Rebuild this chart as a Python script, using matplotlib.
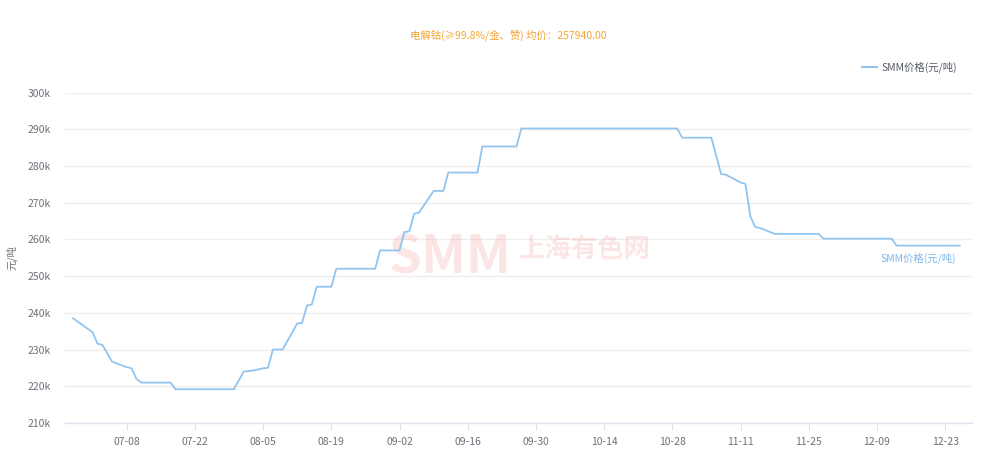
import matplotlib
matplotlib.use("Agg")
import matplotlib.pyplot as plt
import matplotlib.dates as mdates
import numpy as np
import datetime as dt

plt.rcParams['font.family'] = ['Noto Sans CJK SC', 'DejaVu Sans']

YEAR = 2025
title = "电解钴(≥99.8%/金、赞) 均价：257940.00"
series_name = "SMM价格(元/吨)"
y_label = "元/吨"

# vertex dates (MM-DD) and prices (yuan/ton)
dates = ["06-27", "07-01", "07-02", "07-03", "07-05", "07-08", "07-09", "07-10", "07-11",
         "07-17", "07-18", "07-30", "08-01", "08-03", "08-05", "08-06", "08-07", "08-09",
         "08-12", "08-13", "08-14", "08-15", "08-16", "08-19", "08-20", "08-28", "08-29",
         "09-02", "09-03", "09-04", "09-05", "09-06", "09-09", "09-11", "09-12", "09-18",
         "09-19", "09-26", "09-27", "10-29", "10-30", "11-05", "11-07", "11-08", "11-11",
         "11-12", "11-13", "11-14", "11-15", "11-18", "11-27", "11-28", "12-12", "12-13",
         "12-26"]
values = [238500, 234700, 231600, 231300, 226700, 225200, 224900, 222000, 221000,
          221000, 219200, 219200, 224000, 224300, 224900, 225000, 230000, 230000,
          237100, 237300, 242000, 242300, 247100, 247100, 252000, 252000, 257000,
          257000, 262000, 262200, 267000, 267300, 273200, 273200, 278200, 278200,
          285300, 285300, 290200, 290200, 287700, 287700, 277800, 277600, 275500,
          275100, 266300, 263400, 263100, 261500, 261500, 260200, 260200, 258300,
          258300]

tick_labels = ["07-08", "07-22", "08-05", "08-19", "09-02", "09-16", "09-30",
               "10-14", "10-28", "11-11", "11-25", "12-09", "12-23"]
y_ticks = [210000, 220000, 230000, 240000, 250000, 260000, 270000, 280000, 290000, 300000]

def to_date(s):
    m, d = s.split("-")
    return dt.datetime(YEAR, int(m), int(d))

x = [to_date(s) for s in dates]
xt = [to_date(s) for s in tick_labels]

fig = plt.figure(figsize=(9.87, 4.66), dpi=100)
ax = fig.add_axes([65/987, 1-423/466, (972-65)/987, (423-92.5)/466])

line_color = "#91C5F0"
ax.plot(x, values, color=line_color, lw=1.3, zorder=3, solid_joinstyle='round')

ax.set_ylim(210000, 300000)
ax.set_xlim(to_date("06-25") + dt.timedelta(hours=8), to_date("12-28") + dt.timedelta(hours=12))
ax.set_yticks(y_ticks)
ax.set_yticklabels([f"{v//1000}k" for v in y_ticks])
ax.set_xticks(mdates.date2num(xt))
ax.set_xticklabels(tick_labels)

ax.grid(axis='y', color="#EEEEEE", lw=1)
ax.set_axisbelow(True)
for s in ["top", "right", "left"]:
    ax.spines[s].set_visible(False)
ax.spines["bottom"].set_color("#DDE3EE")
ax.spines["bottom"].set_linewidth(1)
ax.tick_params(axis='y', length=0, labelsize=7.5, labelcolor="#6E7079", pad=10)
ax.tick_params(axis='x', length=5, direction='out', color="#DDE3EE", labelsize=7.5,
               labelcolor="#6E7079", pad=5)

ax.set_ylabel(y_label, fontsize=7.5, color="#6E7079")
ax.yaxis.set_label_coords(-0.052, 0.5)

fig.text(508/987, 1-35/466, title, ha='center', va='center', fontsize=7.5, color="#F5A533")

# legend
fig.lines.append(plt.Line2D([862/987, 877/987], [1-67/466, 1-67/466], transform=fig.transFigure,
                            color=line_color, lw=1.5))
fig.text(881/987, 1-67/466, series_name, ha='left', va='center', fontsize=7.5, color="#555A66")

# end label
ax.annotate(series_name, xy=(mdates.date2num(x[-1]), values[-1]), xytext=(-3, -9),
            textcoords='offset points', ha='right', va='center', fontsize=7.5, color="#7FB7EA")

# watermark (under the line)
ax.text(450/987, 1-258/466, "SMM", transform=fig.transFigure, ha='center', va='center',
        fontsize=38, fontweight='heavy', color="#F08080", alpha=0.2, zorder=1)
ax.text(585/987, 1-249/466, "上海有色网", transform=fig.transFigure, ha='center', va='center',
        fontsize=19, fontweight='bold', color="#F08080", alpha=0.2, zorder=1)

fig.savefig("out.png", dpi=100)
